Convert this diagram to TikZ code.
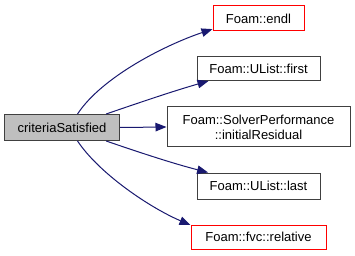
\documentclass[tikz,border=0pt]{standalone}
\usepackage{fontspec}
\setmainfont{Liberation Sans}
\usetikzlibrary{arrows.meta}
\definecolor{edgeblue}{HTML}{191970}
\definecolor{rootfill}{HTML}{BFBFBF}
\definecolor{boxgray}{HTML}{404040}
\tikzset{
  fn/.style={draw=boxgray, line width=1pt, fill=white, inner sep=0pt,
    font=\fontsize{13}{15}\selectfont, align=center},
  fnred/.style={fn, draw=red},
  rootfn/.style={fn, fill=rootfill},
  call/.style={draw=edgeblue, line width=1pt,
    -{Triangle[length=11pt,width=8.5pt]}, edgeblue},
}
\begin{document}
\begin{tikzpicture}[x=1pt,y=-1pt]
\useasboundingbox (0,0) rectangle (355,256);
\fill[white] (0,0) rectangle (355,256);

\node[rootfn, minimum width=115pt, minimum height=26pt] (root) at (62,127.5) {criteriaSatisfied};
\node[fnred, minimum width=91pt, minimum height=25pt] (endl) at (258.5,18.5) {Foam::endl};
\node[fn, minimum width=123pt, minimum height=24pt] (first) at (258.5,68.5) {Foam::UList::first};
\node[fn, minimum width=183pt, minimum height=40pt] (sp) at (258.5,127) {Foam::SolverPerformance\\::initialResidual};
\node[fn, minimum width=123pt, minimum height=26pt] (last) at (258.5,186) {Foam::UList::last};
\node[fnred, minimum width=135pt, minimum height=24pt] (rel) at (258.5,237) {Foam::fvc::relative};

\coordinate (firstin) at ([xshift=12pt]first.south west);

\draw[call] (root.41) .. controls +(25,-38) and +(-45,15) .. (endl.193);
\draw[call] (root.17) .. controls +(35,-12) and +(-35,10) .. (firstin);
\draw[call] (root.east) -- (sp.west);
\draw[call] (root.-17) .. controls +(35,12) and +(-35,-9) .. (last.165);
\draw[call] (root.-41) .. controls +(22,33) and +(-40,-17) .. (rel.170);
\end{tikzpicture}
\end{document}
